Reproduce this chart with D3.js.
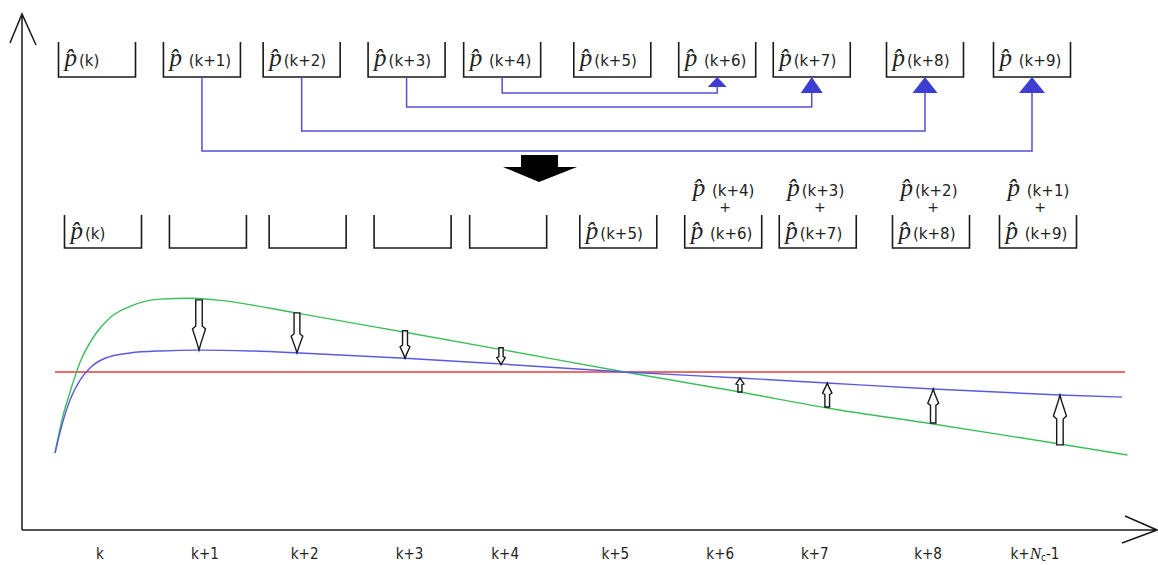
<!DOCTYPE html>
<html>
<head>
<meta charset="utf-8">
<script src="https://cdn.jsdelivr.net/npm/d3@7"></script>
<style>
  body { margin: 0; background: #fff; }
  svg { display: block; }
</style>
</head>
<body>
<div id="chart"></div>
<script>
// step labels along the time axis and where they sit (in steps)
const stepLabels = ['k', 'k+1', 'k+2', 'k+3', 'k+4', 'k+5', 'k+6', 'k+7', 'k+8', 'k+Nc-1'];
const stepT = [0, 1.01, 1.97, 2.98, 3.90, 4.96, 5.97, 6.88, 7.97, 9.0];

// prediction buffer, before and after folding
const topLabels = ['(k)', ' (k+1)', '(k+2)', '(k+3)', ' (k+4)', '(k+5)', ' (k+6)', '(k+7)', '(k+8)', ' (k+9)'];
const midLabels = ['(k)', '', '', '', '', '(k+5)', ' (k+6)', '(k+7)', '(k+8)', ' (k+9)'];
const midAbove = ['', '', '', '', '', '', ' (k+4)', '(k+3)', '(k+2)', ' (k+1)'];
const folds = [[4, 6], [3, 7], [2, 8], [1, 9]];

// curves (t in steps, value relative to set-point = 1)
const setpoint = 1;
const greenT = [-0.433, -0.366, -0.289, -0.192, -0.048, 0.096, 0.289, 0.577, 0.866, 1.107, 1.925, 2.936, 3.85, 5.05, 6.16, 7.0, 8.02, 9.24, 9.89];
const greenV = [0, 0.41, 0.75, 1.12, 1.46, 1.67, 1.81, 1.90, 1.91, 1.89, 1.72, 1.49, 1.28, 1.0, 0.753, 0.556, 0.358, 0.111, -0.025];
const blueT = [-0.433, -0.366, -0.289, -0.192, -0.096, 0.048, 0.289, 0.577, 0.962, 1.443, 1.925, 2.936, 3.85, 5.05, 6.16, 7.0, 8.02, 9.24, 9.84];
const blueV = [0, 0.346, 0.654, 0.90, 1.05, 1.17, 1.235, 1.26, 1.27, 1.26, 1.235, 1.17, 1.10, 1.0, 0.926, 0.864, 0.79, 0.716, 0.69];

// correction arrows from green to blue
const arrowT = [0.953, 1.896, 2.936, 3.86, 6.16, 7.0, 8.02, 9.24];
const arrowFrom = [1.89, 1.73, 1.51, 1.30, 0.753, 0.568, 0.37, 0.10];
const arrowTo = [1.27, 1.235, 1.17, 1.09, 0.926, 0.864, 0.79, 0.716];

const width = 1158, height = 565;
const svg = d3.select('#chart').append('svg')
    .attr('width', width)
    .attr('height', height);

const x = d3.scaleLinear().domain([0, 9]).range([100, 1035]);
const y = d3.scaleLinear().domain([0, 1]).range([453, 372]);

const ink = '#1a1a1a';
const linkBlue = '#5252d6';
const serif = '"Liberation Serif", "DejaVu Serif", serif';
const sans = '"DejaVu Sans", "Liberation Sans", sans-serif';

// axes
const ox = 22, oy = 530;
svg.append('path')
    .attr('d', `M${ox},${oy}V14M10,43L${ox},14L36,45`)
    .attr('fill', 'none').attr('stroke', ink).attr('stroke-width', 1.5);
svg.append('path')
    .attr('d', `M${ox},${oy}H1157M1125,516L1157,${oy}L1122,543`)
    .attr('fill', 'none').attr('stroke', ink).attr('stroke-width', 1.5);

// step labels
const tick = svg.append('g')
    .attr('font-family', '"Liberation Sans Narrow", "DejaVu Sans Condensed", sans-serif')
    .attr('font-size', 15)
    .attr('fill', '#222')
    .attr('text-anchor', 'middle');
stepLabels.forEach((lab, i) => {
    const t = tick.append('text').attr('x', x(stepT[i])).attr('y', 559);
    if (lab === 'k+Nc-1') {
        t.append('tspan').text('k+');
        t.append('tspan').attr('font-family', serif).attr('font-style', 'italic').attr('font-size', 17).text('N');
        t.append('tspan').attr('font-size', 10).attr('dy', 2).text('c');
        t.append('tspan').attr('dy', -2).text('-1');
    } else {
        t.text(lab);
    }
});

// buffer boxes
const boxW = 77;
function bracket(g, cx, top, bottom) {
    g.append('path')
        .attr('d', `M${cx - boxW / 2},${top}V${bottom}H${cx + boxW / 2}V${top}`)
        .attr('fill', 'none').attr('stroke', ink).attr('stroke-width', 1.6);
}
function pLabel(g, xLeft, baseline, suffix) {
    const t = g.append('text').attr('x', xLeft).attr('y', baseline).attr('fill', '#222');
    t.append('tspan')
        .attr('font-family', serif).attr('font-style', 'italic').attr('font-size', 25)
        .text('p\u0302');
    t.append('tspan').attr('font-family', sans).attr('font-size', 15).attr('dx', 2).text(suffix);
    return t;
}

const topRow = svg.append('g');
const topCx = stepT.map(t => x(t) - 3);
topLabels.forEach((lab, i) => {
    bracket(topRow, topCx[i], 42, 77);
    pLabel(topRow, topCx[i] - boxW / 2 + 6, 66, lab);
});

const midRow = svg.append('g');
const midCx = stepT.map(t => x(t) + 3);
midLabels.forEach((lab, i) => {
    bracket(midRow, midCx[i], 215, 248);
    if (lab) pLabel(midRow, midCx[i] - boxW / 2 + 6, 239, lab);
    if (midAbove[i]) {
        pLabel(midRow, midCx[i] - boxW / 2 + 8, 196, midAbove[i]);
        midRow.append('text')
            .attr('x', midCx[i] + 2).attr('y', 212)
            .attr('text-anchor', 'middle')
            .attr('font-family', sans).attr('font-size', 14).attr('fill', '#222')
            .text('+');
    }
});

// fold connectors
const levels = [93, 107, 131, 151];
const heads = [[10, 19], [16, 22], [16, 25], [16, 26]];
const links = svg.append('g');
folds.forEach(([a, b], i) => {
    const xa = topCx[a], xb = topCx[b], lv = levels[i];
    const [hh, hw] = heads[i];
    links.append('path')
        .attr('d', `M${xa},77V${lv}H${xb}V${77 + hh}`)
        .attr('fill', 'none').attr('stroke', linkBlue).attr('stroke-width', 1.5);
    links.append('path')
        .attr('d', `M${xb},77L${xb + hw / 2},${77 + hh}L${xb - hw / 2},${77 + hh}Z`)
        .attr('fill', '#3d3dd2');
});

// big down arrow between rows
svg.append('path')
    .attr('d', 'M521,155H558V167H577L539,182L503,167H521Z')
    .attr('fill', '#000');

// curves
const line = d3.line().x(d => x(d[0])).y(d => y(d[1])).curve(d3.curveMonotoneX);
svg.append('line')
    .attr('x1', x(greenT[0])).attr('x2', 1125)
    .attr('y1', y(setpoint)).attr('y2', y(setpoint))
    .attr('stroke', '#ee3a3a').attr('stroke-width', 1.3);
svg.append('path')
    .datum(d3.zip(greenT, greenV))
    .attr('fill', 'none').attr('stroke', '#3cbf5a').attr('stroke-width', 1.4)
    .attr('d', line);
svg.append('path')
    .datum(d3.zip(blueT, blueV))
    .attr('fill', 'none').attr('stroke', '#5a5ae0').attr('stroke-width', 1.4)
    .attr('d', line);

// correction arrows
function blockArrow(cx, y0, y1) {
    const L = y1 - y0, a = Math.abs(L);
    const sw = 3 + a * 0.07, hw = sw * 2.0;
    const yh = y0 + 0.52 * L, yf = y0 + 0.58 * L, yn = y0 + 0.86 * L;
    return `M${cx - sw / 2},${y0}H${cx + sw / 2}V${yh}L${cx + hw / 2},${yf}L${cx + sw * 0.3},${yn}L${cx},${y1}` +
        `L${cx - sw * 0.3},${yn}L${cx - hw / 2},${yf}L${cx - sw / 2},${yh}Z`;
}
svg.append('g').selectAll('path')
    .data(arrowT.map((t, i) => ({ t, from: arrowFrom[i], to: arrowTo[i] })))
    .enter().append('path')
    .attr('d', d => blockArrow(x(d.t), y(d.from), y(d.to)))
    .attr('fill', '#fff')
    .attr('stroke', ink)
    .attr('stroke-width', 1.4)
    .attr('stroke-linejoin', 'miter');
</script>
</body>
</html>
